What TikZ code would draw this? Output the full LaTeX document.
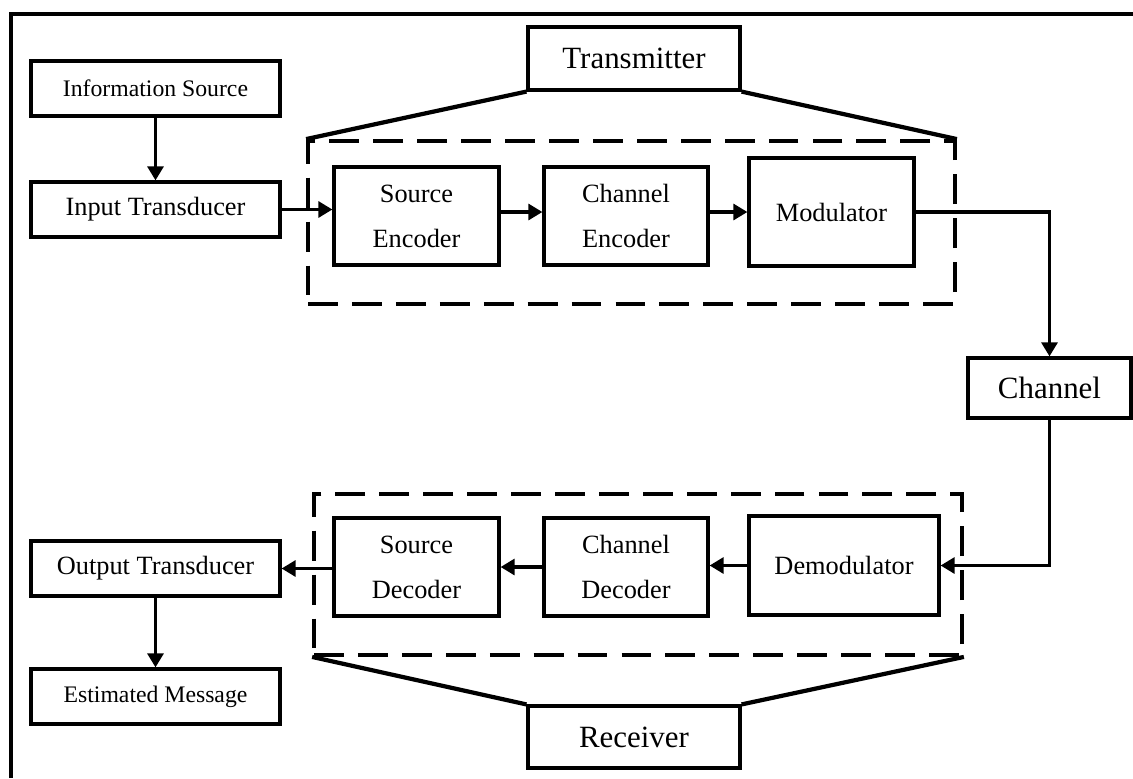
\documentclass[tikz,border=0pt]{standalone}
\usepackage{fontspec}
\setmainfont{Liberation Serif}
\usetikzlibrary{arrows.meta, positioning, calc}

\begin{document}
\begin{tikzpicture}[x=0.02cm, y=-0.02cm,
  box/.style={draw, line width=1.8pt, inner sep=0pt, align=center,
    font=\fontsize{15}{25.5}\selectfont},
  sidebox/.style={box, minimum width=4.98cm, minimum height=1.1cm},
  blockbox/.style={box, minimum width=3.3cm, minimum height=1.96cm},
  labelbox/.style={box, font=\fontsize{17.6}{20}\selectfont},
  groupbox/.style={draw, line width=2.2pt, dash pattern=on 17pt off 8pt, inner sep=0pt},
  arr/.style={line width=2.1pt, -{Triangle[length=8pt,width=9pt]}}
]
  \useasboundingbox (0,0) rectangle (1133,778);

  % Outer frame
  \draw[line width=2.3pt] (11,778) -- (11,14) -- (1133,14);

  % Left column
  \node[sidebox, font=\fontsize{13.5}{16}\selectfont] (info) at (155.5,88.5) {Information Source};
  \node[sidebox] (input) at (155.5,209.5) {Input Transducer};
  \node[sidebox] (output) at (155.5,568.5) {Output Transducer};
  \node[sidebox, font=\fontsize{13.5}{16}\selectfont] (estim) at (155.5,696.5) {Estimated Message};

  % Transmitter blocks
  \node[groupbox, minimum width=12.94cm, minimum height=3.26cm] (txgroup) at (631.5,222.5) {};
  \node[blockbox] (srcenc) at (416.5,216) {Source\\Encoder};
  \node[blockbox, minimum width=3.28cm] (chenc) at (626,216) {Channel\\Encoder};
  \node[blockbox, minimum height=2.16cm] (mod) at (831.5,212) {Modulator};
  \node[labelbox, minimum width=4.24cm, minimum height=1.26cm] (tx) at (634,58.5) {Transmitter};

  % Channel
  \node[labelbox, minimum width=3.26cm, minimum height=1.2cm] (chan) at (1049.5,388) {Channel};

  % Receiver blocks
  \node[groupbox, minimum width=12.96cm, minimum height=3.22cm] (rxgroup) at (638,574.5) {};
  \node[blockbox] (srcdec) at (416.5,567) {Source\\Decoder};
  \node[blockbox, minimum width=3.28cm] (chdec) at (626,567) {Channel\\Decoder};
  \node[blockbox, minimum width=3.8cm, minimum height=1.98cm] (demod) at (844,565.5) {Demodulator};
  \node[labelbox, minimum width=4.24cm, minimum height=1.24cm] (rx) at (634,737) {Receiver};

  % Brackets to the group boxes
  \draw[line width=2.4pt] (txgroup.north west) -- (tx.south west);
  \draw[line width=2.4pt] (txgroup.north east) -- (tx.south east);
  \draw[line width=2.4pt] (rxgroup.south west) -- (rx.north west);
  \draw[line width=2.4pt] (rxgroup.south east) -- (rx.north east);

  % Signal flow
  \draw[arr] (info) -- (input);
  \draw[arr] (input.east) -- (input.east -| srcenc.west);
  \draw[arr] (srcenc.east |- mod) -- (chenc.west |- mod);
  \draw[arr] (chenc.east |- mod) -- (mod.west);
  \draw[arr] (mod.east) -| (chan.north);
  \draw[arr] (chan.south) |- (demod.east);
  \draw[arr] (demod.west) -- (demod.west -| chdec.east);
  \draw[arr] (chdec.west) -- (srcdec.east);
  \draw[arr] (srcdec.west |- output) -- (output.east);
  \draw[arr] (output) -- (estim);
\end{tikzpicture}
\end{document}
